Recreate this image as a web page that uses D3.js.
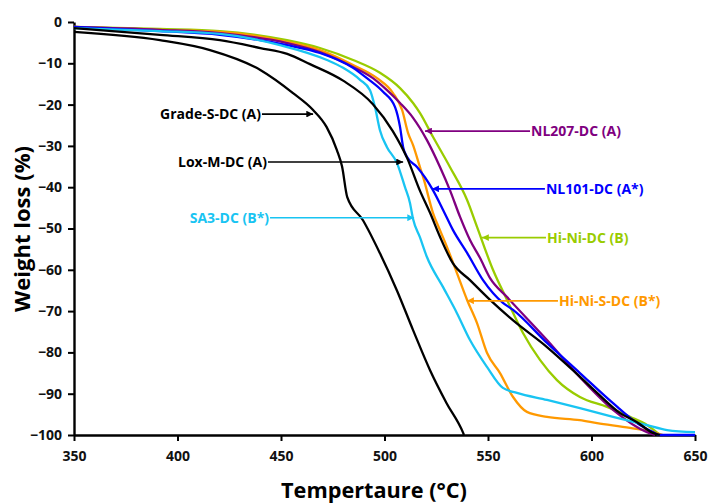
<!DOCTYPE html>
<html>
<head>
<meta charset="utf-8">
<script src="https://cdn.jsdelivr.net/npm/d3@7"></script>
<style>
  html, body { margin: 0; padding: 0; background: #fff; }
  svg { display: block; }
  text { font-family: "Open Sans", Lato, "Liberation Sans", sans-serif; font-weight: bold; }
</style>
</head>
<body>
<svg id="chart" width="708" height="503"></svg>
<script>
// ---------------- DATA ----------------
const xTicks = [350, 400, 450, 500, 550, 600, 650];
const yTicks = [0, -10, -20, -30, -40, -50, -60, -70, -80, -90, -100];
const xTitle = "Tempertaure (°C)";
const yTitle = "Weight loss (%)";

const seriesNames = ["Grade-S-DC (A)", "Lox-M-DC (A)", "SA3-DC (B*)", "NL207-DC (A)", "NL101-DC (A*)", "Hi-Ni-DC (B)", "Hi-Ni-S-DC (B*)"];
const seriesColors = ["#000000", "#000000", "#19c4f2", "#800080", "#0000ff", "#99cc00", "#ff9900"];

const gradeS = [[350,-2.4],[391.5,-4.4],[415.7,-6.8],[440,-11.6],[455.8,-17.2],[465.5,-21.3],[472,-25.4],[477,-31],[479.5,-35],[482,-42.4],[489.6,-48],[497.8,-56],[506,-65],[513.8,-74.6],[522,-84.3],[530,-92.3],[538,-99.5],[538.4,-100]];
const loxM = [[350,-1.5],[391.5,-3.1],[420.5,-4.4],[440,-6.3],[453,-7.7],[464,-10.2],[480,-14.2],[494.4,-19.9],[504,-26.4],[510.9,-32.9],[517,-40.7],[522,-46.2],[526.8,-52],[533,-58.4],[541.3,-62.5],[551,-67.3],[562,-72.2],[578.5,-78.7],[591,-84.3],[602.7,-89.8],[613.8,-94.7],[622,-96.9],[629.7,-99.5],[633,-100]];
const sa3 = [[350,-1.5],[391.5,-2.2],[420.5,-2.9],[449.5,-5.6],[472.2,-9.2],[480,-11.1],[488.2,-14],[493,-16.5],[495.4,-20.6],[497.8,-26.2],[501.2,-30.3],[506,-34.1],[509.9,-40],[512.3,-43.8],[513.8,-47.7],[517.1,-52.1],[520.5,-56.9],[528.3,-64.2],[535,-70.5],[541.3,-77],[549.5,-83.5],[557.2,-88.6],[564,-89.8],[578.5,-91.5],[594.4,-93.5],[610.4,-95.6],[626.8,-97.6],[636.5,-98.8],[650,-99.3]];
const nl207 = [[350,-1.2],[391.5,-1.9],[420.5,-2.7],[452.9,-5.1],[468.8,-7.3],[484.8,-10.9],[494.4,-13.6],[501.2,-16.5],[507.5,-19.6],[513.8,-23.2],[520.5,-28.6],[526.8,-35.1],[531.6,-40.7],[536.5,-47.2],[541.3,-52.8],[546.1,-57.1],[551,-62],[559.2,-66.6],[578.5,-77],[594.4,-86],[610.4,-93.9],[626.8,-99.3],[630.7,-100]];
const nl101 = [[350,-1.2],[391.5,-2.2],[420.5,-3.1],[452.9,-5.6],[468.8,-7.5],[484.8,-11.1],[491.5,-13.6],[499.3,-16.9],[505.1,-20.6],[507.5,-25.4],[509,-30.3],[510.9,-32.7],[515.7,-35.1],[523.4,-40.7],[528.3,-45.5],[533.1,-50.4],[539.9,-55.9],[547.6,-62.5],[557.2,-68],[562.1,-69.7],[578.5,-77.7],[594.4,-85],[610.4,-92.3],[623.4,-97.6],[629.7,-99.3],[633,-100],[650,-100]];
const hiNi = [[350,-1.2],[391.5,-1.7],[420.5,-2.2],[452.9,-4.4],[468.8,-6.3],[484.8,-9.2],[497.8,-12.3],[507.5,-16],[513.8,-19.6],[517.1,-22],[523.4,-27.8],[531.6,-35.1],[539.9,-43.1],[544.7,-49.6],[552.4,-60],[559.2,-67.3],[566.9,-75.3],[575.1,-81.8],[583.3,-86.7],[594.4,-90.8],[607.5,-93.2],[618.6,-95.6],[626.8,-97.6],[633,-100]];
const hiNiS = [[350,-1.2],[391.5,-1.9],[420.5,-2.4],[452.9,-4.8],[468.8,-6.8],[484.8,-10.4],[496.4,-13.6],[504.1,-17.2],[508.5,-21.3],[511.4,-26.9],[513.8,-29.8],[517.1,-35.1],[519.1,-38.3],[523.4,-46.2],[526.8,-50.4],[530.2,-54.5],[535,-60.8],[539.9,-67.3],[544.7,-72.9],[549.5,-80.1],[555.8,-85],[562.1,-90.8],[568.8,-94.4],[578.5,-95.6],[594.4,-96.4],[602.7,-97.1],[618.6,-98.3],[629.7,-99.3],[634.5,-100]];
const seriesData = [gradeS, loxM, sa3, nl207, nl101, hiNi, hiNiS];

// annotation: label edge temperature, weight level, arrow tip temperature, side
const annoTextT = [440.8, 443.7, 444.7, 570.3, 577.5, 578, 583.8];
const annoW = [-22.3, -33.9, -47.4, -26.4, -40.4, -52.2, -67.5];
const annoTipT = [465.5, 509, 514.3, 519.6, 523, 547.1, 539.9];
const annoSide = ["left", "left", "left", "right", "right", "right", "right"];

// ---------------- CHART ----------------
const svg = d3.select("#chart");
const margin = { left: 74, right: 13, top: 22, bottom: 68 };
const W = 708, H = 503;
const x = d3.scaleLinear().domain([350, 650]).range([margin.left, W - margin.right]);
const y = d3.scaleLinear().domain([-100, 0]).range([H - margin.bottom, margin.top]);

function fitWidth(sel, target) {
  const w = sel.node().getComputedTextLength();
  const fs = parseFloat(sel.style("font-size"));
  sel.style("font-size", (fs * target / w).toFixed(2) + "px");
}

// axes
const xAxis = d3.axisBottom(x).tickValues(xTicks).tickSize(6).tickSizeOuter(0).tickPadding(10);
const yAxis = d3.axisLeft(y).tickValues(yTicks).tickSize(6).tickSizeOuter(0).tickPadding(6);

const gx = svg.append("g").attr("transform", `translate(0,${y(-100)})`).call(xAxis);
const gy = svg.append("g").attr("transform", `translate(${x(350)},0)`).call(yAxis);
[gx, gy].forEach(g => {
  g.select(".domain").attr("stroke", "#000").attr("stroke-width", 2.4);
  g.selectAll(".tick line").attr("stroke", "#000").attr("stroke-width", 2);
  g.selectAll(".tick text").attr("fill", "#111").style("font-size", "14px").style("font-weight", "bold")
    .style("font-family", "'Open Sans', Lato, sans-serif");
});

// lines
const line = d3.line().x(d => x(d[0])).y(d => y(d[1])).curve(d3.curveMonotoneX);
const drawOrder = [5, 6, 3, 4, 2, 1, 0];
drawOrder.forEach(i => {
  svg.append("path")
    .datum(seriesData[i])
    .attr("fill", "none")
    .attr("stroke", seriesColors[i])
    .attr("stroke-width", 2.3)
    .attr("stroke-linejoin", "round")
    .attr("d", line);
});

// arrow markers
const defs = svg.append("defs");
seriesColors.forEach((c, i) => {
  defs.append("marker")
    .attr("id", "arr" + i)
    .attr("viewBox", "0 0 10 10")
    .attr("refX", 10).attr("refY", 5)
    .attr("markerWidth", 4.5).attr("markerHeight", 4)
    .attr("markerUnits", "strokeWidth")
    .attr("orient", "auto")
    .append("path").attr("d", "M0,0 L10,5 L0,10 z").attr("fill", c);
});

// annotations
seriesNames.forEach((name, i) => {
  const ty = y(annoW[i]);
  const tx = x(annoTextT[i]);
  const tip = x(annoTipT[i]);
  svg.append("line")
    .attr("x1", tx).attr("y1", ty).attr("x2", tip).attr("y2", ty)
    .attr("stroke", seriesColors[i]).attr("stroke-width", 1.7)
    .attr("marker-end", `url(#arr${i})`);
  svg.append("text")
    .attr("x", annoSide[i] === "left" ? tx - 1 : tx + 1)
    .attr("y", ty)
    .attr("dy", "0.36em")
    .attr("text-anchor", annoSide[i] === "left" ? "end" : "start")
    .attr("fill", seriesColors[i])
    .style("font-size", "14px")
    .text(name);
});

// titles
const xt = svg.append("text")
  .attr("x", 374)
  .attr("y", 498)
  .attr("text-anchor", "middle")
  .attr("fill", "#000")
  .style("font-size", "20px")
  .text(xTitle);
fitWidth(xt, 186);
const yt = svg.append("text")
  .attr("transform", `translate(30,${229}) rotate(-90)`)
  .attr("text-anchor", "middle")
  .attr("fill", "#000")
  .style("font-size", "20px")
  .text(yTitle);
fitWidth(yt, 166);
</script>
</body>
</html>
